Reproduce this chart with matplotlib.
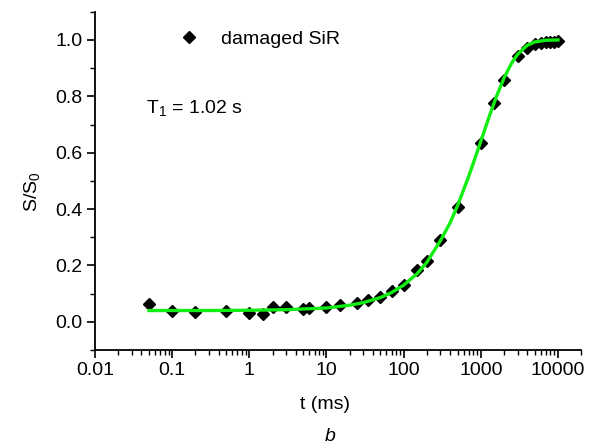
import numpy as np
import matplotlib
matplotlib.use('Agg')
import matplotlib.pyplot as plt
from matplotlib.ticker import FixedLocator, FuncFormatter, LogLocator, MultipleLocator

plt.rcParams['font.family'] = ['Liberation Sans', 'DejaVu Sans']
plt.rcParams['mathtext.default'] = 'regular'

# measured points (t in ms, S/S0)
t_data = [0.05, 0.1, 0.2, 0.5, 1.0, 1.5, 2, 3, 5, 6, 10, 15, 25, 35, 50, 70,
          100, 150, 200, 300, 500, 1000, 1500, 2000, 3000, 4000, 5000, 6000,
          7000, 8000, 9000, 10000]
s_data = [0.064, 0.037, 0.036, 0.037, 0.031, 0.028, 0.052, 0.053, 0.047, 0.049,
          0.052, 0.060, 0.068, 0.076, 0.088, 0.109, 0.132, 0.185, 0.214, 0.289,
          0.406, 0.636, 0.775, 0.857, 0.942, 0.973, 0.987, 0.991, 0.993, 0.994,
          0.994, 0.996]

# fitted curve (T1 = 1.02 s)
t_fit = [0.05, 0.1, 0.3, 1, 3, 10, 20, 30, 50, 70, 100, 150, 200, 300, 400,
         500, 700, 1000, 1300, 1600, 2000, 2500, 3000, 4000, 5000, 7000, 10000]
s_fit = [0.040, 0.040, 0.040, 0.041, 0.043, 0.049, 0.059, 0.068, 0.086, 0.104,
         0.130, 0.171, 0.211, 0.288, 0.351, 0.412, 0.517, 0.640, 0.732, 0.800,
         0.865, 0.917, 0.949, 0.981, 0.993, 0.999, 1.000]

fig = plt.figure(figsize=(5.9, 4.45), dpi=100)
ax = fig.add_axes([0.161, 0.2135, 0.824, 0.76])

ax.plot(t_data, s_data, linestyle='none', marker='D', ms=6.5, color='black',
        label='damaged SiR', zorder=2)
ax.plot(t_fit, s_fit, color='#11ee11', lw=2.4, zorder=3)

ax.set_xscale('log')
ax.set_xlim(0.01, 20000)
ax.set_ylim(-0.1, 1.1)

ax.xaxis.set_major_locator(FixedLocator([0.01, 0.1, 1, 10, 100, 1000, 10000]))
ax.xaxis.set_major_formatter(FuncFormatter(lambda v, p: '%g' % v if v >= 1 else ('%.2f' % v if v < 0.1 else '0.1')))
ax.xaxis.set_minor_locator(LogLocator(base=10, subs=np.arange(2, 10), numticks=20))
ax.xaxis.set_minor_formatter(FuncFormatter(lambda v, p: ''))
ax.yaxis.set_major_locator(FixedLocator([0.0, 0.2, 0.4, 0.6, 0.8, 1.0]))
ax.yaxis.set_major_formatter(FuncFormatter(lambda v, p: '%.1f' % v))
ax.yaxis.set_minor_locator(MultipleLocator(0.1))

for side in ['top', 'right']:
    ax.spines[side].set_visible(False)
for side in ['left', 'bottom']:
    ax.spines[side].set_linewidth(1.3)

ax.tick_params(which='major', direction='out', length=6, width=1.2, labelsize=14, pad=3)
ax.tick_params(which='minor', direction='out', length=3.5, width=1.0)

ax.set_xlabel('t (ms)', fontsize=14)
ax.xaxis.set_label_coords(0.473, -0.135)
ax.set_ylabel('S/S$_0$', fontsize=14)
ax.yaxis.set_label_coords(-0.11, 0.467)

ax.legend(loc='upper left', bbox_to_anchor=(0.146, 0.985), frameon=False,
          fontsize=14, handlelength=1.0, handletextpad=1.15, borderaxespad=0.3)
ax.text(0.105, 0.70, 'T$_1$ = 1.02 s', transform=ax.transAxes, fontsize=14)

fig.text(0.559, 0.008, 'b', fontsize=14, style='italic', ha='center')

fig.savefig('out.png', dpi=100)
